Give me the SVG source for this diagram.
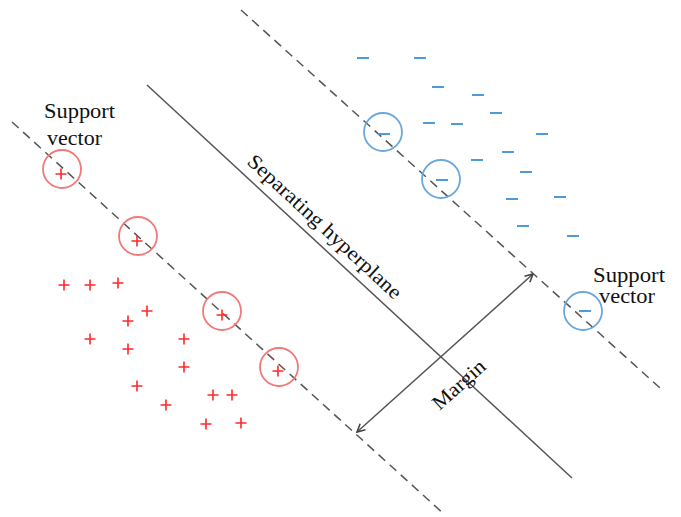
<svg xmlns="http://www.w3.org/2000/svg" width="681" height="517" viewBox="0 0 681 517">
<style>
.lbl{font-family:"Liberation Serif","Times New Roman",serif;font-size:20.5px;fill:#111}
.dash{stroke:#555;stroke-width:1.5;stroke-dasharray:9 6;fill:none}
.solid{stroke:#555;stroke-width:1.5;fill:none}
.pl{stroke:#ff2a2a;stroke-width:1.6;fill:none}
.mi{stroke:#4f9ad8;stroke-width:2;fill:none}
.rc{stroke:#f07a7a;stroke-width:1.8;fill:none}
.bc{stroke:#6aa8dc;stroke-width:1.8;fill:none}
</style>
<defs>
<path id="p" d="M-5.5,0H5.5M0,-5.5V5.5"/>
<path id="m" d="M-6,0H6"/>
<marker id="ah" viewBox="0 0 10 10" refX="9.3" refY="5" markerWidth="10" markerHeight="10" markerUnits="userSpaceOnUse" orient="auto-start-reverse">
<path d="M1.5,1L9.3,5L1.5,9" fill="none" stroke="#444" stroke-width="1.6"/>
</marker>
</defs>
<rect width="681" height="517" fill="#fff"/>
<g id="connectors">
<line class="dash" x1="241" y1="10" x2="660" y2="388"/>
<line class="solid" x1="147" y1="85" x2="572" y2="478"/>
<line class="dash" x1="12" y1="122" x2="445" y2="515"/>
<line class="solid" x1="357" y1="432" x2="533" y2="274" marker-start="url(#ah)" marker-end="url(#ah)"/>
</g>
<g id="positive">
<use href="#p" class="pl" x="64" y="285"/>
<use href="#p" class="pl" x="90" y="285"/>
<use href="#p" class="pl" x="118" y="283"/>
<use href="#p" class="pl" x="147" y="311"/>
<use href="#p" class="pl" x="128" y="321"/>
<use href="#p" class="pl" x="90" y="339"/>
<use href="#p" class="pl" x="128" y="349"/>
<use href="#p" class="pl" x="184" y="339"/>
<use href="#p" class="pl" x="184" y="367"/>
<use href="#p" class="pl" x="137" y="386"/>
<use href="#p" class="pl" x="166" y="405"/>
<use href="#p" class="pl" x="213" y="395"/>
<use href="#p" class="pl" x="232" y="395"/>
<use href="#p" class="pl" x="206" y="424"/>
<use href="#p" class="pl" x="241" y="423"/>
</g>
<g id="positive-support">
<circle class="rc" cx="62" cy="169" r="19"/><use href="#p" class="pl" x="61" y="174"/>
<circle class="rc" cx="138" cy="236" r="19"/><use href="#p" class="pl" x="137" y="241"/>
<circle class="rc" cx="222" cy="311" r="19"/><use href="#p" class="pl" x="222" y="315"/>
<circle class="rc" cx="279" cy="367" r="19"/><use href="#p" class="pl" x="278" y="371"/>
</g>
<g id="negative">
<use href="#m" class="mi" x="363" y="58"/>
<use href="#m" class="mi" x="420" y="58"/>
<use href="#m" class="mi" x="438" y="87"/>
<use href="#m" class="mi" x="478" y="95"/>
<use href="#m" class="mi" x="496" y="113"/>
<use href="#m" class="mi" x="429" y="123"/>
<use href="#m" class="mi" x="457" y="124"/>
<use href="#m" class="mi" x="542" y="134"/>
<use href="#m" class="mi" x="508" y="152"/>
<use href="#m" class="mi" x="477" y="160"/>
<use href="#m" class="mi" x="526" y="172"/>
<use href="#m" class="mi" x="512" y="199"/>
<use href="#m" class="mi" x="560" y="197"/>
<use href="#m" class="mi" x="523" y="226"/>
<use href="#m" class="mi" x="573" y="236"/>
</g>
<g id="negative-support">
<circle class="bc" cx="383" cy="132" r="19"/><use href="#m" class="mi" x="384" y="134"/>
<circle class="bc" cx="441" cy="179" r="19"/><use href="#m" class="mi" x="442" y="180"/>
<circle class="bc" cx="583" cy="311" r="19"/><use href="#m" class="mi" x="585" y="311"/>
</g>
<g id="label-support-left">
<text class="lbl" x="44" y="118" textLength="71" lengthAdjust="spacingAndGlyphs">Support</text>
<text class="lbl" x="47" y="145" textLength="55" lengthAdjust="spacingAndGlyphs">vector</text>
</g>
<g id="label-support-right">
<text class="lbl" x="593" y="282" textLength="72" lengthAdjust="spacingAndGlyphs">Support</text>
<text class="lbl" x="599" y="303" textLength="56" lengthAdjust="spacingAndGlyphs">vector</text>
</g>
<g id="label-hyperplane">
<text class="lbl" transform="translate(246,163) rotate(42.8)" textLength="202" lengthAdjust="spacingAndGlyphs">Separating hyperplane</text>
</g>
<g id="label-margin">
<text class="lbl" transform="translate(439.5,411) rotate(-41.9)" textLength="64" lengthAdjust="spacingAndGlyphs">Margin</text>
</g>
</svg>
